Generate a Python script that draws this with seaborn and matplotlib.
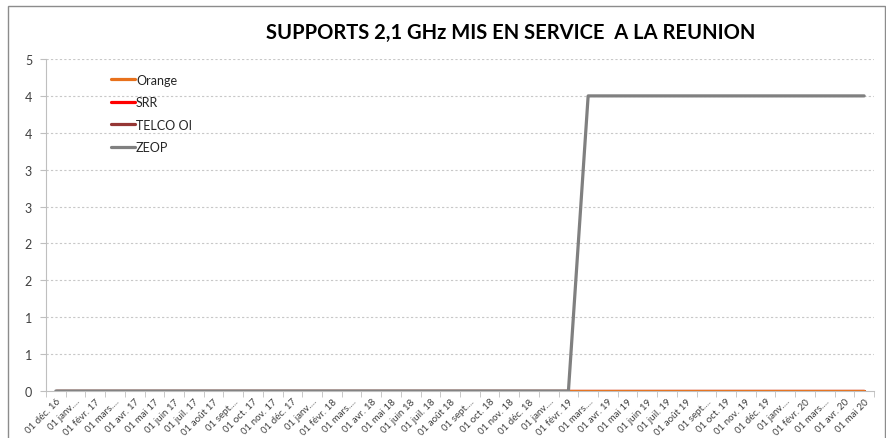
import pandas as pd
import matplotlib
matplotlib.use('Agg')
import matplotlib.pyplot as plt
import seaborn as sns
from matplotlib.patches import Rectangle

# mois de dec. 2016 a mai 2020
mois = ['01 déc. 16', '01 janv....', '01 févr. 17', '01 mars....', '01 avr. 17', '01 mai 17',
        '01 juin 17', '01 juil. 17', '01 août 17', '01 sept....', '01 oct. 17', '01 nov. 17',
        '01 déc. 17', '01 janv....', '01 févr. 18', '01 mars....', '01 avr. 18', '01 mai 18',
        '01 juin 18', '01 juil. 18', '01 août 18', '01 sept....', '01 oct. 18', '01 nov. 18',
        '01 déc. 18', '01 janv....', '01 févr. 19', '01 mars....', '01 avr. 19', '01 mai 19',
        '01 juin 19', '01 juil. 19', '01 août 19', '01 sept....', '01 oct. 19', '01 nov. 19',
        '01 déc. 19', '01 janv....', '01 févr. 20', '01 mars....', '01 avr. 20', '01 mai 20']

orange = [0] * 42
srr = [0] * 42
telco = [0] * 42
zeop = [0] * 27 + [4] * 15

yticks = [0, 0.5, 1, 1.5, 2, 2.5, 3, 3.5, 4, 4.5]
ylabels = ['0', '1', '1', '2', '2', '3', '3', '4', '4', '5']

series = {'SRR': srr, 'TELCO OI': telco, 'Orange': orange, 'ZEOP': zeop}
df = pd.concat([pd.DataFrame({'x': range(len(mois)), 'val': v, 'op': k}) for k, v in series.items()])

couleurs = {'Orange': '#E8711C', 'SRR': '#FF0000', 'TELCO OI': '#953735', 'ZEOP': '#808080'}

sns.set_style('white')
plt.rcParams['font.family'] = ['Lato', 'DejaVu Sans']

fig = plt.figure(figsize=(8.86, 4.39), dpi=100)
ax = fig.add_axes([46 / 886, 1 - 392 / 439, 828 / 886, 332 / 439])

sns.lineplot(data=df, x='x', y='val', hue='op', palette=couleurs, linewidth=2.3,
             ax=ax, legend=False, hue_order=['SRR', 'TELCO OI', 'Orange', 'ZEOP'])

ax.set_xlim(-0.5, len(mois) - 0.5)
ax.set_ylim(0, 4.5)
ax.set_yticks(yticks)
ax.set_yticklabels(ylabels, fontsize=9, color='#404040')
ax.set_xticks(range(len(mois)))
ax.set_xticklabels(mois, rotation=45, ha='right', rotation_mode='anchor', fontsize=7, color='#404040')
ax.set_xticks([i + 0.5 for i in range(-1, len(mois))], minor=True)
ax.tick_params(axis='x', which='major', length=0, pad=4)
ax.tick_params(axis='x', which='minor', length=4, color='#bfbfbf', bottom=True)
ax.tick_params(axis='y', length=4, color='#bfbfbf', left=True, pad=6)
ax.set_xlabel('')
ax.set_ylabel('')

for y in yticks[1:]:
    ax.axhline(y, color='#c8c8c8', linestyle=(0, (2, 2)), linewidth=0.8, zorder=0)

for s in ['top', 'right']:
    ax.spines[s].set_visible(False)
ax.spines['left'].set_color('#bfbfbf')
ax.spines['bottom'].set_color('#bfbfbf')

# legende
handles = [plt.Line2D([], [], color=couleurs[k], linewidth=2.3) for k in ['Orange', 'SRR', 'TELCO OI', 'ZEOP']]
ax.legend(handles, ['Orange', 'SRR', 'TELCO OI', 'ZEOP'], loc='upper left', bbox_to_anchor=(0.065, 0.99),
          frameon=False, fontsize=9, handlelength=1.9, handletextpad=0.1, labelspacing=0.85)

fig.text(511 / 886, 1 - 33 / 439, 'SUPPORTS 2,1 GHz MIS EN SERVICE  A LA REUNION',
         ha='center', va='center', fontsize=14.5, fontweight='bold', color='black')

fig.patches.append(Rectangle((8 / 886, -0.05), 877 / 886, 1.05 - 7 / 439, transform=fig.transFigure,
                             fill=False, edgecolor='#8c8c8c', linewidth=1))

fig.savefig('out.png', dpi=100)
